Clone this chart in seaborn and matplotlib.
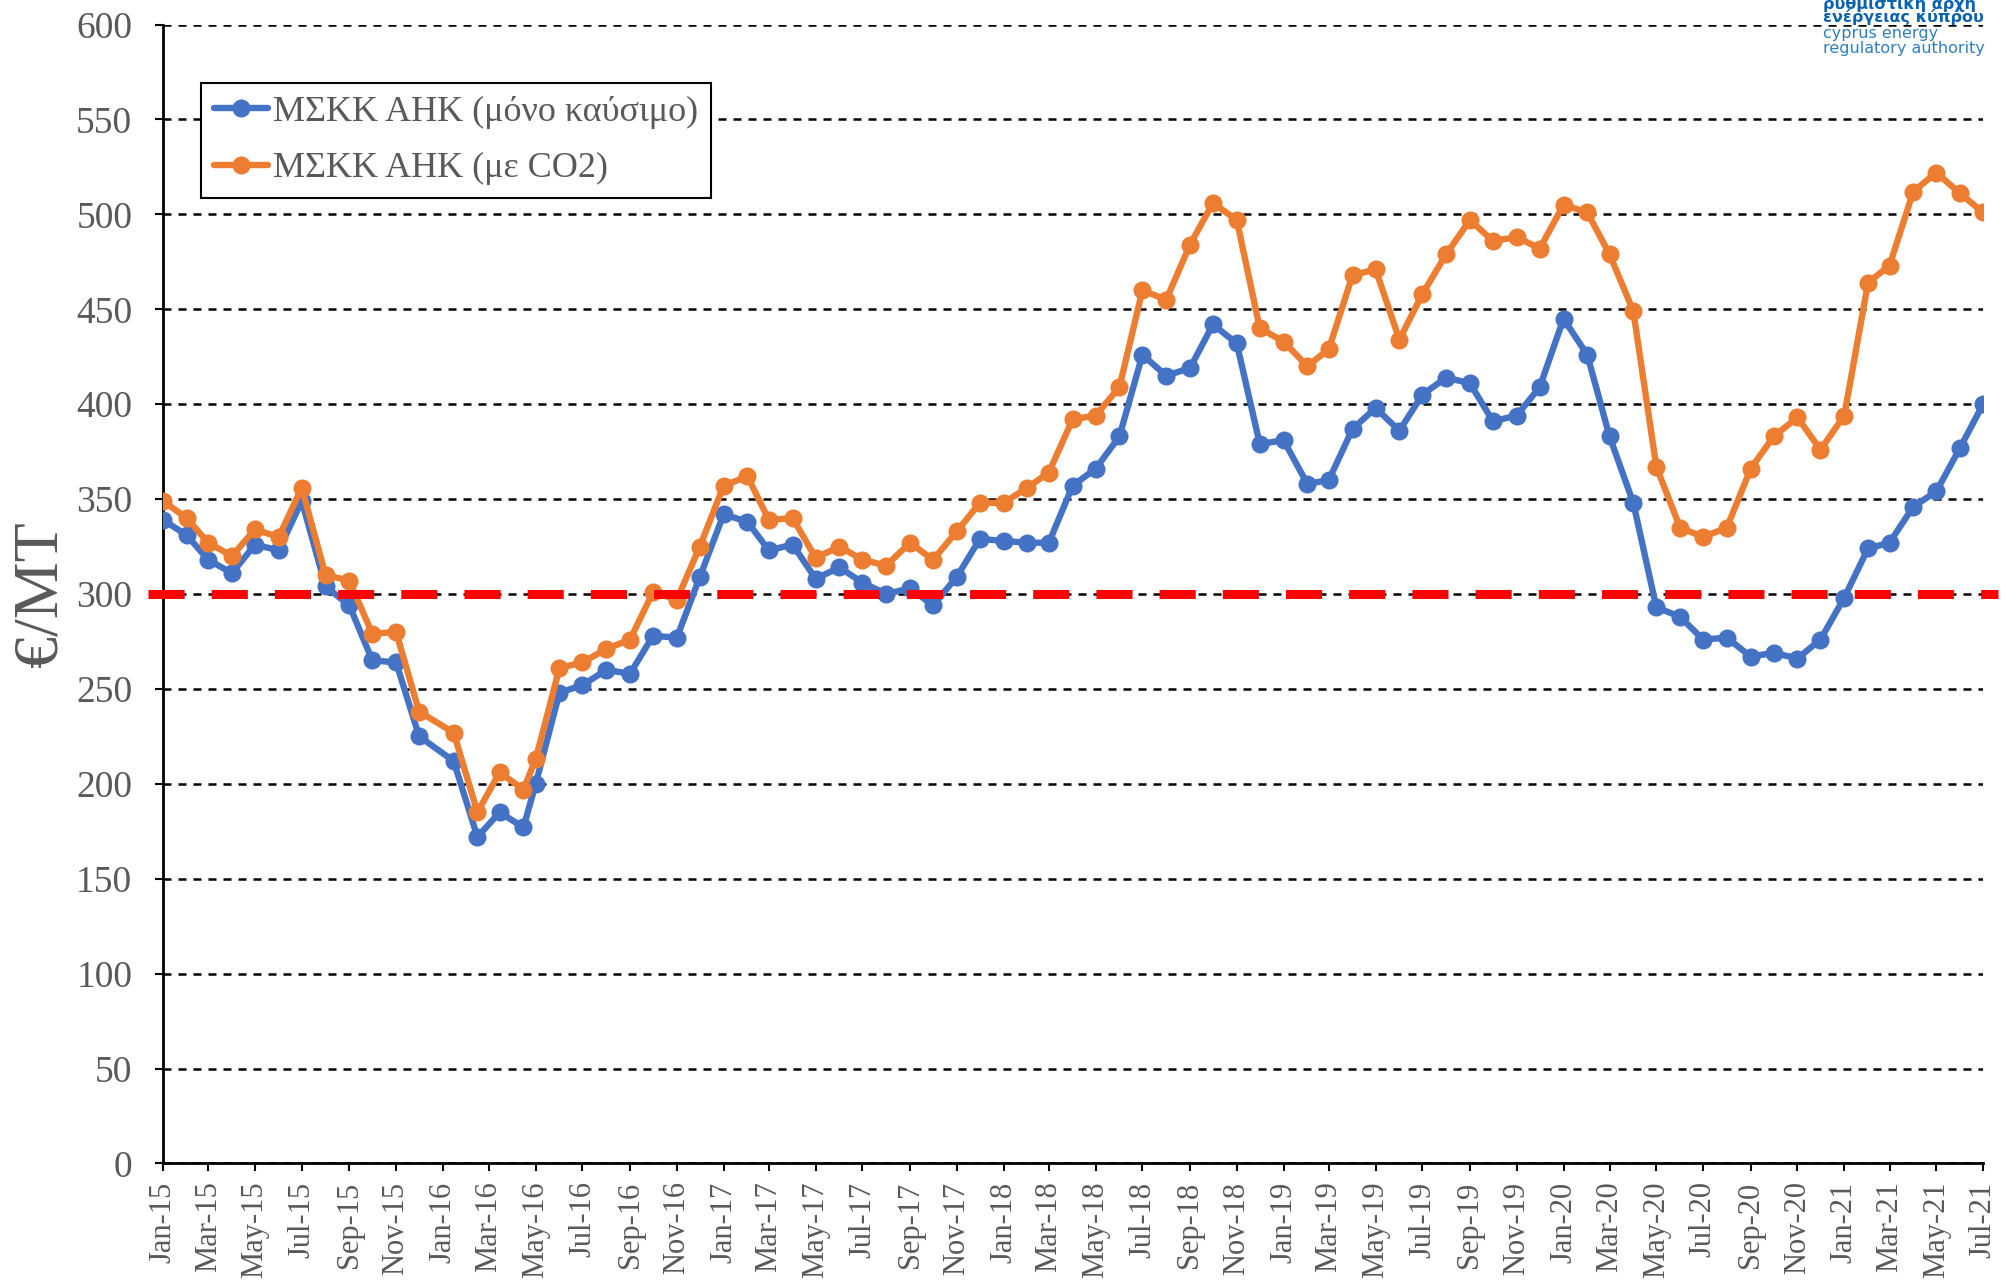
import pandas as pd
import seaborn as sns
import matplotlib.pyplot as plt
import matplotlib.dates as mdates

# monthly points Jan-15 .. Jul-21 (Jan-Apr 2016 are plotted mid-month in the source)
month_starts = pd.date_range("2015-01-01", "2021-07-01", freq="MS")
mid_month_2016 = ["2016-01-15", "2016-02-15", "2016-03-15", "2016-04-15"]

fuel_only = [339, 331, 318, 311, 326, 323, 349, 304, 294, 265, 264, 225,
             212, 172, 185, 177, 200, 248, 252, 260, 258, 278, 277, 309,
             342, 338, 323, 326, 308, 314, 306, 300, 303, 294, 309, 329,
             328, 327, 327, 357, 366, 383, 426, 415, 419, 442, 432, 379,
             381, 358, 360, 387, 398, 386, 405, 414, 411, 391, 394, 409,
             445, 426, 383, 348, 293, 288, 276, 277, 267, 269, 266, 276,
             298, 324, 327, 346, 354, 377, 400]
with_co2 = [349, 340, 327, 320, 334, 330, 356, 310, 307, 279, 280, 238,
            227, 185, 206, 197, 213, 261, 264, 271, 276, 301, 297, 325,
            357, 362, 339, 340, 319, 325, 318, 315, 327, 318, 333, 348,
            348, 356, 364, 392, 394, 409, 460, 455, 484, 506, 497, 440,
            433, 420, 429, 468, 471, 434, 458, 479, 497, 486, 488, 482,
            505, 501, 479, 449, 367, 335, 330, 335, 366, 383, 393, 376,
            394, 464, 473, 512, 522, 511, 501]
threshold = 300

label_fuel = "ΜΣΚΚ ΑΗΚ (μόνο καύσιμο)"
label_co2 = "ΜΣΚΚ ΑΗΚ (με CO2)"

dates = list(month_starts)
for i, d in enumerate(mid_month_2016):
    dates[12 + i] = pd.Timestamp(d)

df = pd.DataFrame({"date": dates, "fuel": fuel_only, "co2": with_co2})

sns.set_style("white")
plt.rcParams["font.family"] = ["Liberation Serif", "DejaVu Serif"]
grey = "#595959"

fig = plt.figure(figsize=(20.09, 12.85), dpi=100)
ax = fig.add_axes([0.0811, 0.0946, 0.9060, 0.8863])

sns.lineplot(data=df, x="date", y="fuel", ax=ax, color="#4472C4", lw=4.6,
             marker="o", markersize=13, markeredgewidth=0, label=label_fuel, zorder=3)
sns.lineplot(data=df, x="date", y="co2", ax=ax, color="#ED7D31", lw=4.6,
             marker="o", markersize=13, markeredgewidth=0, label=label_co2, zorder=4)
ax.axhline(threshold, xmin=-0.008, xmax=1.008, color="#FF0000", lw=6.5,
           dashes=(4, 3), zorder=5, clip_on=False)

ax.set_xlim(pd.Timestamp("2015-01-01"), pd.Timestamp("2021-07-01"))
ax.set_ylim(0, 600)
ax.set_yticks(range(0, 601, 50))
ax.xaxis.set_major_locator(mdates.MonthLocator(bymonth=[1, 3, 5, 7, 9, 11]))
ax.xaxis.set_major_formatter(mdates.DateFormatter("%b-%y"))

ax.set_axisbelow(True)
ax.grid(axis="y", color="black", lw=1.8, ls=(0, (3.2, 2.8)))
ax.grid(axis="x", visible=False)
for side in ["top", "right"]:
    ax.spines[side].set_visible(False)
for side in ["left", "bottom"]:
    ax.spines[side].set_color("black")
    ax.spines[side].set_linewidth(2)

ax.tick_params(bottom=True, left=True, direction="out", length=6, width=1.5,
               color="black", labelcolor=grey)
ax.tick_params(axis="y", labelsize=27, pad=16)
ax.tick_params(axis="x", labelsize=22, pad=7, labelrotation=90)

ax.set_xlabel("")
ax.set_ylabel("€/MT", fontsize=46, color=grey)
ax.yaxis.set_label_coords(-0.051, 0.5)

leg = ax.legend(loc="upper left", bbox_to_anchor=(0.021, 0.949), fontsize=26,
                frameon=True, fancybox=False, edgecolor="black", framealpha=1,
                handlelength=1.5, handletextpad=0.15, borderpad=0.35,
                borderaxespad=0, labelspacing=0.65, labelcolor=grey)
leg.get_frame().set_linewidth(1.5)

# logo text, top right
fig.text(1823 / 2009, 1 - 9 / 1285, "ρυθμιστική αρχή", family="DejaVu Sans",
         weight="bold", fontsize=11.5, color="#0b62ad", va="baseline")
fig.text(1823 / 2009, 1 - 22 / 1285, "ενέργειας κύπρου", family="DejaVu Sans",
         weight="bold", fontsize=11.5, color="#0b62ad", va="baseline")
fig.text(1823 / 2009, 1 - 38 / 1285, "cyprus energy", family="DejaVu Sans",
         fontsize=11.5, color="#2f7fc0", va="baseline")
fig.text(1823 / 2009, 1 - 53 / 1285, "regulatory authority", family="DejaVu Sans",
         fontsize=11.5, color="#2f7fc0", va="baseline")

fig.savefig("out.png", dpi=100)
